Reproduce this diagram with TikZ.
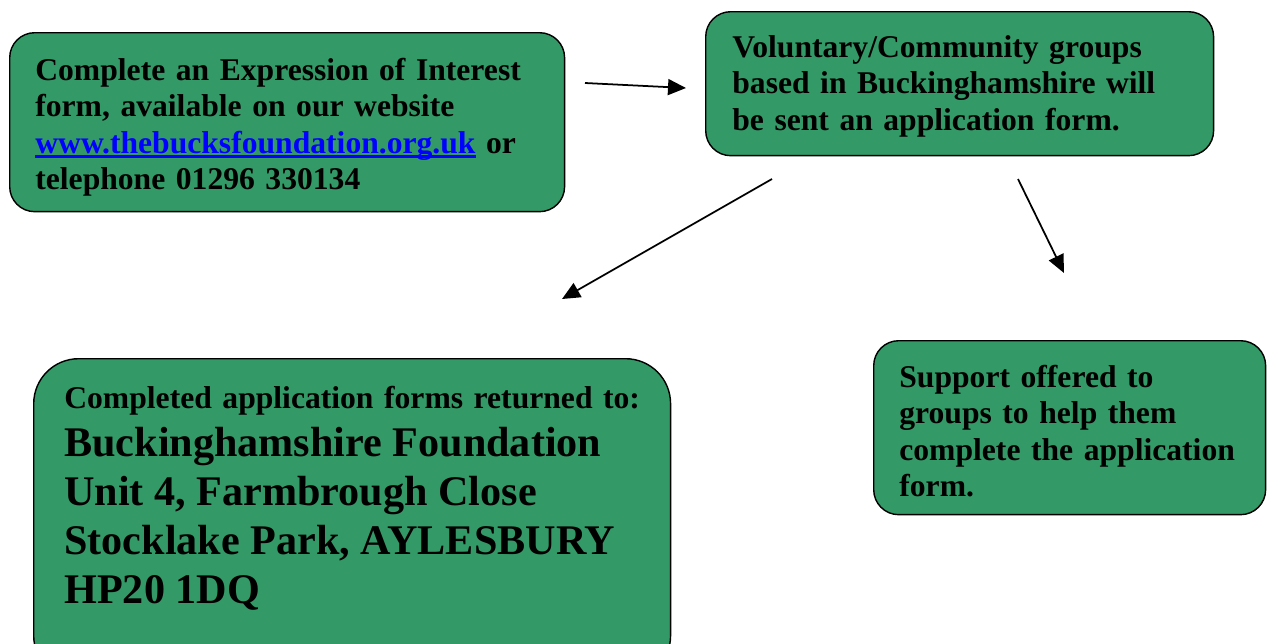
\documentclass[tikz,border=0pt]{standalone}
\usepackage{fontspec}
\setmainfont{Liberation Serif}
\usetikzlibrary{arrows.meta}
\definecolor{seagreen}{RGB}{51,153,102}
\definecolor{linkblue}{RGB}{0,0,255}
\newcommand{\weblink}[1]{\textcolor{linkblue}{\setbox0\hbox{#1}\rlap{\rule[-2.6pt]{\wd0}{1.5pt}}\box0}}

\begin{document}
\begin{tikzpicture}[x=0.02cm,y=-0.02cm,
  greenbox/.style={draw=black, line width=0.8pt, fill=seagreen, rounded corners=#1,
    anchor=north west, inner sep=0pt},
  greenbox/.default=0.5cm,
  boxtext/.style={anchor=base west, inner sep=0pt, align=left, text width=#1,
    font=\fontsize{18}{20.8}\selectfont\bfseries},
  flow/.style={line width=1pt, -{Triangle[length=0.36cm,width=0.32cm]}}]
\useasboundingbox (0,0) rectangle (1267,643);

% boxes
\node[greenbox, minimum width=11.1cm, minimum height=3.58cm] (eoi) at (9,32) {};
\node[greenbox, minimum width=10.16cm, minimum height=2.88cm] (sent) at (705,11) {};
\node[greenbox=0.9cm, minimum width=12.74cm, minimum height=6.44cm] (return) at (33,358) {};
\node[greenbox, minimum width=7.84cm, minimum height=3.48cm] (support) at (873,340) {};

% texts
\node[boxtext=10.6cm] (eoitext) at (35,80) {Complete an Expression of Interest\\
  form, available on our website\\
  \weblink{www.thebucksfoundation.org.uk} or\\
  telephone 01296 330134};
\node[boxtext=9.6cm] (senttext) at (732,57) {Voluntary/Community groups\\
  based in Buckinghamshire will\\
  be sent an application form.};
\node[boxtext=12.2cm] (returntext) at (64,408) {Completed application forms returned to:\\
  \fontsize{24}{27.8}\selectfont Buckinghamshire Foundation\\
  Unit 4, Farmbrough Close\\
  Stocklake Park, AYLESBURY\\
  HP20 1DQ\par};
\node[boxtext=7.4cm] (supporttext) at (899,387) {Support offered to\\
  groups to help them\\
  complete the application\\
  form.};

% arrows
\coordinate (a1) at (585,83);
\coordinate (b1) at (686,88);
\coordinate (a2) at (772,179);
\coordinate (b2) at (562,299);
\coordinate (a3) at (1018,179);
\coordinate (b3) at (1064,273);
\draw[flow] (a1) -- (b1);
\draw[flow] (a2) -- (b2);
\draw[flow] (a3) -- (b3);
\end{tikzpicture}
\end{document}
